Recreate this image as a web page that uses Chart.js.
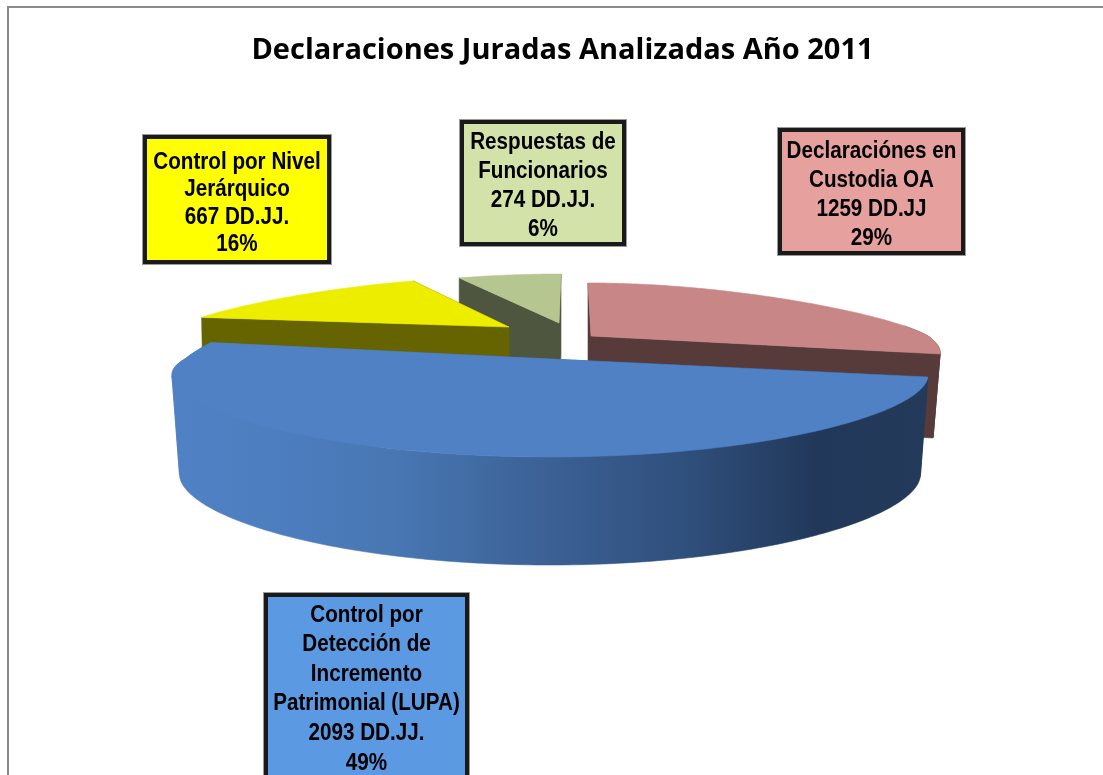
<!DOCTYPE html>
<html><head><meta charset="utf-8">
<style>html,body{margin:0;padding:0;background:#fff;overflow:hidden}canvas{display:block}</style>
<script src="https://cdn.jsdelivr.net/npm/chart.js@4"></script>
</head><body><canvas id="c" width="1103" height="775"></canvas>
<script>
const title = 'Declaraciones Juradas Analizadas Año 2011';
const categories = ['Declaraciónes en Custodia OA','Control por Detección de Incremento Patrimonial (LUPA)','Control por Nivel Jerárquico','Respuestas de Funcionarios'];
const values = [1259, 2093, 667, 274];
const pinkLabel = ['Declaraciónes en','Custodia OA','1259 DD.JJ','29%'];
const blueLabel = ['Control por','Detección de','Incremento','Patrimonial (LUPA)','2093 DD.JJ.','49%'];
const yellowLabel = ['Control por Nivel','Jerárquico','667 DD.JJ.','16%'];
const greenLabel = ['Respuestas de','Funcionarios','274 DD.JJ.','6%'];

// drawing styles, kept apart from the data
const topColors = ['#c88786','#4f81c4','#eded00','#b5c690'];
const sideColors = ['#573a3a',null,'#666400','#4f5640'];
const PERSP = 0.279;
const slices3d = [
 {cx:588,apexDx:3,cy:336,a:340,bBack:53,bFront:67,bend:0,depth:84,grow:0,shrink:.98},
 {cx:550,apexDx:0,cy:359,a:365,bBack:85,bFront:55.6,bend:42.4,depth:96,grow:12,shrink:.98},
 {cx:509,apexDx:0,cy:327,a:331,bBack:50,bFront:50,bend:0,depth:80,grow:0,shrink:.995},
 {cx:561,apexDx:-2,cy:323,a:351,bBack:49,bFront:49,bend:0,depth:80,grow:0,shrink:1}
];
const drawOrder = [3,0,2,1];
const boxes = [
 {lines:pinkLabel,l:778,t:128,r:965,b:255,fill:'#e6a09e',y0:150,dy:29},
 {lines:blueLabel,l:264,t:593,r:469,b:790,fill:'#5b99e2',y0:614,dy:29.6},
 {lines:yellowLabel,l:143,t:135,r:331,b:264,fill:'#ffff00',y0:161,dy:27.6},
 {lines:greenLabel,l:460,t:120,r:626,b:246,fill:'#d2e2a8',y0:141,dy:29}
];
const LABEL_X_SCALE = 0.86;

function project(g,ang,bottom){
  const u=Math.cos(ang), v=Math.sin(ang);
  const f=bottom?g.shrink:1;
  const x=g.cx+g.a*f*u*(1+PERSP*v);
  const by=(v<0?g.bBack:g.bFront+(bottom?g.grow:0)+g.bend*v);
  return {x,y:g.cy+(bottom?g.depth:0)+by*v};
}
function poly(ctx,pts,fill){
  ctx.beginPath();pts.forEach((p,i)=>i?ctx.lineTo(p.x,p.y):ctx.moveTo(p.x,p.y));ctx.closePath();
  ctx.fillStyle=fill;ctx.fill();ctx.strokeStyle=fill;ctx.lineWidth=.6;ctx.stroke();
}
function samples(a0,a1){const n=Math.max(4,Math.ceil((a1-a0)*60)),r=[];for(let i=0;i<=n;i++)r.push(a0+(a1-a0)*i/n);return r;}
// cut the rim where it turns back horizontally, so each wall piece is a simple shape
function rimRuns(g,angles){
  const runs=[];let run=[angles[0]],dir=0;
  for(let k=1;k<angles.length;k++){
    const d=Math.sign(project(g,angles[k],false).x-project(g,angles[k-1],false).x);
    if(dir&&d&&d!==dir){runs.push(run);run=[angles[k-1]];}
    if(d)dir=d;
    run.push(angles[k]);
  }
  runs.push(run);return runs;
}

const pie3d={
  id:'pie3d',
  beforeDraw(chart){
    const c=chart.ctx;
    c.save();c.fillStyle='#fff';c.fillRect(0,0,chart.width,chart.height);
    c.fillStyle='#8a8a8a';c.fillRect(7,6,chart.width-7,2);c.fillRect(7,6,2,chart.height-6);
    c.restore();
  },
  beforeDatasetsDraw(chart){
    const c=chart.ctx, arcs=chart.getDatasetMeta(0).data;
    const grad=c.createLinearGradient(175,0,930,0);
    [[0,'#4f81c4'],[.12,'#4d7ec0'],[.29,'#4877b3'],[.53,'#395d90'],[.67,'#30507d'],[.85,'#21385a'],[1,'#233a5b']].forEach(s=>grad.addColorStop(s[0],s[1]));
    c.save();
    drawOrder.forEach(i=>{
      const arc=arcs[i], g=slices3d[i], a0=arc.startAngle, a1=arc.endAngle;
      const side=sideColors[i]||grad;
      const apexT={x:g.cx+g.apexDx,y:g.cy}, apexB={x:g.cx+g.apexDx,y:g.cy+g.depth};
      const pts=samples(a0,a1);
      // radial cut faces
      [a0,a1].forEach(a=>poly(c,[apexT,project(g,a,false),project(g,a,true),apexB],side));
      // outer wall, front part of the rim only
      const vis=pts.filter(a=>Math.sin(a)>-0.2);
      if(vis.length>1){
        rimRuns(g,vis).forEach(run=>{
          poly(c,run.map(a=>project(g,a,false)).concat(run.slice().reverse().map(a=>project(g,a,true))),side);
        });
      }
      // top face
      poly(c,[apexT].concat(pts.map(a=>project(g,a,false))),topColors[i]);
    });
    c.restore();
    return false;
  },
  afterDraw(chart){
    const c=chart.ctx;
    c.save();
    boxes.forEach(b=>{
      c.fillStyle='#9a9a9a';c.fillRect(b.l-1,b.t-1,b.r-b.l+2,b.b-b.t+2);
      c.fillStyle='#1a1a1a';c.fillRect(b.l,b.t,b.r-b.l,b.b-b.t);
      c.fillStyle=b.fill;c.fillRect(b.l+4,b.t+4,b.r-b.l-8,b.b-b.t-8);
      c.fillStyle='#000';c.textAlign='center';c.textBaseline='middle';
      c.font='bold 24px "Liberation Sans",sans-serif';
      b.lines.forEach((t,k)=>{
        c.save();
        c.translate((b.l+b.r)/2,b.y0+k*b.dy+1);
        c.scale(LABEL_X_SCALE,1);
        c.fillText(t,0,0);
        c.restore();
      });
    });
    c.restore();
  }
};

new Chart(document.getElementById('c'),{
  type:'pie',
  data:{labels:categories,datasets:[{data:values,backgroundColor:topColors,borderWidth:0}]},
  options:{
    responsive:false,animation:false,rotation:0,
    layout:{padding:{left:22}},
    plugins:{
      legend:{display:false},tooltip:{enabled:false},
      title:{display:true,text:title,color:'#000',fullSize:false,
        font:{family:'"Open Sans"',size:29,weight:'700'},padding:{top:33,bottom:10}}
    }
  },
  plugins:[pie3d]
});
</script></body></html>
